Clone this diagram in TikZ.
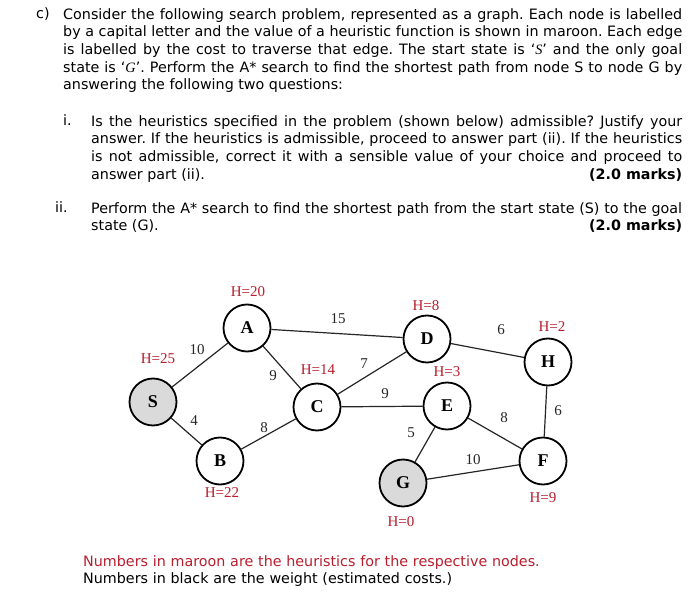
\documentclass[tikz,border=0pt]{standalone}
\usepackage{fontspec}
\setmainfont{DejaVu Sans}
\newfontfamily\tms{Liberation Serif}
\definecolor{maroon}{RGB}{185,30,45}
\definecolor{nodegray}{RGB}{218,218,218}
\frenchspacing
\begin{document}
\begin{tikzpicture}[x=1pt,y=-1pt,
  para/.style={inner sep=0pt, anchor=north west, align=justify,
    font=\fontsize{14.3}{17.6}\selectfont},
  lbl/.style={inner sep=0pt, anchor=base west, font=\fontsize{14.3}{17.6}\selectfont},
  nd/.style={circle, draw=black, line width=1.8pt, minimum size=47pt, inner sep=0pt,
    fill=white, font=\tms\bfseries\fontsize{18}{18}\selectfont},
  startgoal/.style={nd, fill=nodegray},
  edge/.style={draw=black!85, line width=1.2pt},
  heur/.style={inner sep=0pt, text=maroon, font=\tms\fontsize{15}{15}\selectfont},
  wt/.style={inner sep=0pt, text=black!85, font=\tms\fontsize{15}{15}\selectfont}]
\useasboundingbox (0,0) rectangle (700,593);
\fill[white] (0,0) rectangle (700,593);

% question text
\node[lbl] (cl) at (36,19) {c)};
\node[para, text width=619pt] (ptxt) at (63,6.7) {\frenchspacing\hyphenpenalty=10000\tolerance=10000\strut
Consider the following search problem, represented as a graph. Each node is labelled\linebreak
by a capital letter and the value of a heuristic function is shown in maroon. Each edge\linebreak
is labelled by the cost to traverse that edge. The start state is ‘{\tms\itshape S}’ and the only goal\linebreak
state is ‘{\tms\itshape G}’. Perform the A* search to find the shortest path from node S to node G by\linebreak
answering the following two questions:};

\node[lbl] (il) at (63,126) {i.};
\node[para, text width=591pt] (itxt) at (91,113.7) {\frenchspacing\hyphenpenalty=10000\tolerance=10000\strut
Is the heuristics specified in the problem (shown below) admissible? Justify your\linebreak
answer. If the heuristics is admissible, proceed to answer part (ii). If the heuristics\linebreak
is not admissible, correct it with a sensible value of your choice and proceed to\linebreak
answer part (ii).\hfill\textbf{(2.0 marks)}};

\node[lbl] (iil) at (55,213) {ii.};
\node[para, text width=591pt] (iitxt) at (91,200.7) {\frenchspacing\hyphenpenalty=10000\tolerance=10000\strut
Perform the A* search to find the shortest path from the start state (S) to the goal\linebreak
state (G).\hfill\textbf{(2.0 marks)}};

% graph nodes
\node[startgoal] (S) at (153,402) {S};
\node[nd] (A) at (247,328) {A};
\node[nd] (C) at (317,407) {C};
\node[nd] (D) at (427,339) {D};
\node[nd] (H) at (548,362) {H};
\node[nd] (E) at (447,406) {E};
\node[nd] (B) at (220,461) {B};
\node[startgoal] (G) at (403,483) {G};
\node[nd] (F) at (543,461) {F};

% edges
\draw[edge] (S) -- (A);
\draw[edge] (A) -- (D);
\draw[edge] (A) -- (C);
\draw[edge] (C) -- (D);
\draw[edge] (C) -- (E);
\draw[edge] (D) -- (H);
\draw[edge] (H) -- (F);
\draw[edge] (E) -- (F);
\draw[edge] (E) -- (G);
\draw[edge] (G) -- (F);
\draw[edge] (S) -- (B);
\draw[edge] (B) -- (C);

% weights
\node[wt] (wSA) at (197,350) {10};
\node[wt] (wAD) at (338,319) {15};
\node[wt] (wAC) at (273,376) {9};
\node[wt] (wCD) at (364,364) {7};
\node[wt] (wCE) at (385,394) {9};
\node[wt] (wDH) at (501,330) {6};
\node[wt] (wHF) at (558,411) {6};
\node[wt] (wEF) at (504,418) {8};
\node[wt] (wEG) at (411,433) {5};
\node[wt] (wGF) at (473,460) {10};
\node[wt] (wSB) at (194,421) {4};
\node[wt] (wBC) at (264,428) {8};

% heuristics
\node[heur] (hA) at (248,292) {H=20};
\node[heur] (hS) at (158,359) {H=25};
\node[heur] (hC) at (318,370) {H=14};
\node[heur] (hD) at (426,306) {H=8};
\node[heur] (hH) at (552,327) {H=2};
\node[heur] (hE) at (447,372) {H=3};
\node[heur] (hB) at (222,493) {H=22};
\node[heur] (hG) at (401,522) {H=0};
\node[heur] (hF) at (543,498) {H=9};

% legend
\node[para, text width=600pt, align=left] (leg) at (83,553.7) {\strut
\textcolor{maroon}{Numbers in maroon are the heuristics for the respective nodes.}\\
Numbers in black are the weight (estimated costs.)};
\end{tikzpicture}
\end{document}
